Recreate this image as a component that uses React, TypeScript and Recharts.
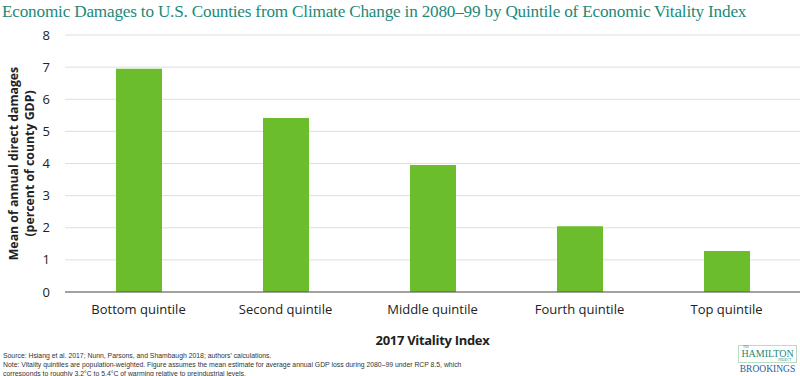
import React from 'react';
import { BarChart, Bar, XAxis, YAxis, CartesianGrid } from 'recharts';

const quintiles = ['Bottom quintile', 'Second quintile', 'Middle quintile', 'Fourth quintile', 'Top quintile'];
const damages = [6.95, 5.42, 3.95, 2.05, 1.28];
const yTicks = [0, 1, 2, 3, 4, 5, 6, 7, 8];

const data = quintiles.map((q, i) => ({ name: q, value: damages[i] }));

const FONT = '"Open Sans", "Noto Sans", sans-serif';

const YLabel = (props: any) => {
  const vb = props.viewBox || {};
  const cy = vb.y + vb.height / 2;
  return (
    <g>
      <text
        x={13}
        y={cy}
        transform={`rotate(-90, 13, ${cy})`}
        textAnchor="middle"
        dominantBaseline="central"
        fontFamily={FONT}
        fontWeight={700}
        fontSize={12.3}
        fill="#222"
      >
        Mean of annual direct damages
      </text>
      <text
        x={29}
        y={cy}
        transform={`rotate(-90, 29, ${cy})`}
        textAnchor="middle"
        dominantBaseline="central"
        fontFamily={FONT}
        fontWeight={700}
        fontSize={12.3}
        fill="#222"
      >
        (percent of county GDP)
      </text>
    </g>
  );
};

export default function App() {
  return (
    <div style={{ position: 'absolute', left: 0, top: 0, width: 800, height: 376, background: '#fff', overflow: 'hidden' }}>
      <div
        style={{
          position: 'absolute',
          left: 2,
          top: 0,
          fontFamily: '"Liberation Serif", serif',
          fontSize: 17.2,
          color: '#1b8a78',
          whiteSpace: 'nowrap',
          letterSpacing: -0.2,
          lineHeight: '24px',
        }}
      >
        Economic Damages to U.S. Counties from Climate Change in 2080–99 by Quintile of Economic Vitality Index
      </div>
      <BarChart
        width={800}
        height={376}
        data={data}
        margin={{ top: 35, right: 0, left: 0, bottom: 0 }}
        barCategoryGap={50}
      >
        <CartesianGrid vertical={false} stroke="#dedede" />
        <XAxis
          dataKey="name"
          height={84}
          tickLine={false}
          tickSize={0}
          tickMargin={13}
          axisLine={{ stroke: '#555' }}
          tick={{ fontFamily: FONT, fontSize: 13, fill: '#222' }}
          interval={0}
          label={{
            value: '2017 Vitality Index',
            position: 'insideBottom',
            offset: 31,
            style: { fontFamily: FONT, fontSize: 13, fontWeight: 700, fill: '#222', letterSpacing: -0.3 },
          }}
        />
        <YAxis
          width={65}
          domain={[0, 8]}
          ticks={yTicks}
          interval={0}
          tickLine={false}
          tickSize={0}
          tickMargin={15}
          axisLine={false}
          tick={{ fontFamily: FONT, fontSize: 13, fill: '#222' }}
          label={<YLabel />}
        />
        <Bar dataKey="value" fill="#6bbd2b" barSize={46} isAnimationActive={false} />
      </BarChart>
      <div
        style={{
          position: 'absolute',
          left: 3,
          top: 351,
          fontFamily: '"Liberation Sans", Arial, sans-serif',
          fontSize: 6.85,
          lineHeight: '9px',
          color: '#333',
          whiteSpace: 'nowrap',
        }}
      >
        <div>Source: Hsiang et al. 2017; Nunn, Parsons, and Shambaugh 2018; authors’ calculations.</div>
        <div>Note: Vitality quintiles are population-weighted. Figure assumes the mean estimate for average annual GDP loss during 2080–99 under RCP 8.5, which</div>
        <div>corresponds to roughly 3.2°C to 5.4°C of warming relative to preindustrial levels.</div>
      </div>
      <div style={{ position: 'absolute', left: 738, top: 345, width: 59, textAlign: 'center', fontFamily: '"Liberation Serif", serif' }}>
        <div style={{ border: '1px solid #b9dcc4', color: '#1b8a78', height: 18, boxSizing: 'border-box', position: 'relative' }}>
          <div style={{ position: 'absolute', left: 4, top: 0, fontSize: 3, lineHeight: '3px' }}>THE</div>
          <div style={{ position: 'absolute', left: 0, right: 0, top: 3, fontSize: 10, lineHeight: '10px' }}>HAMILTON</div>
          <div style={{ position: 'absolute', right: 5, top: 13, fontSize: 3, lineHeight: '3px' }}>PROJECT</div>
        </div>
        <div style={{ color: '#2a5d9c', fontSize: 9.5, lineHeight: '11px', marginTop: 1 }}>BROOKINGS</div>
      </div>
    </div>
  );
}
